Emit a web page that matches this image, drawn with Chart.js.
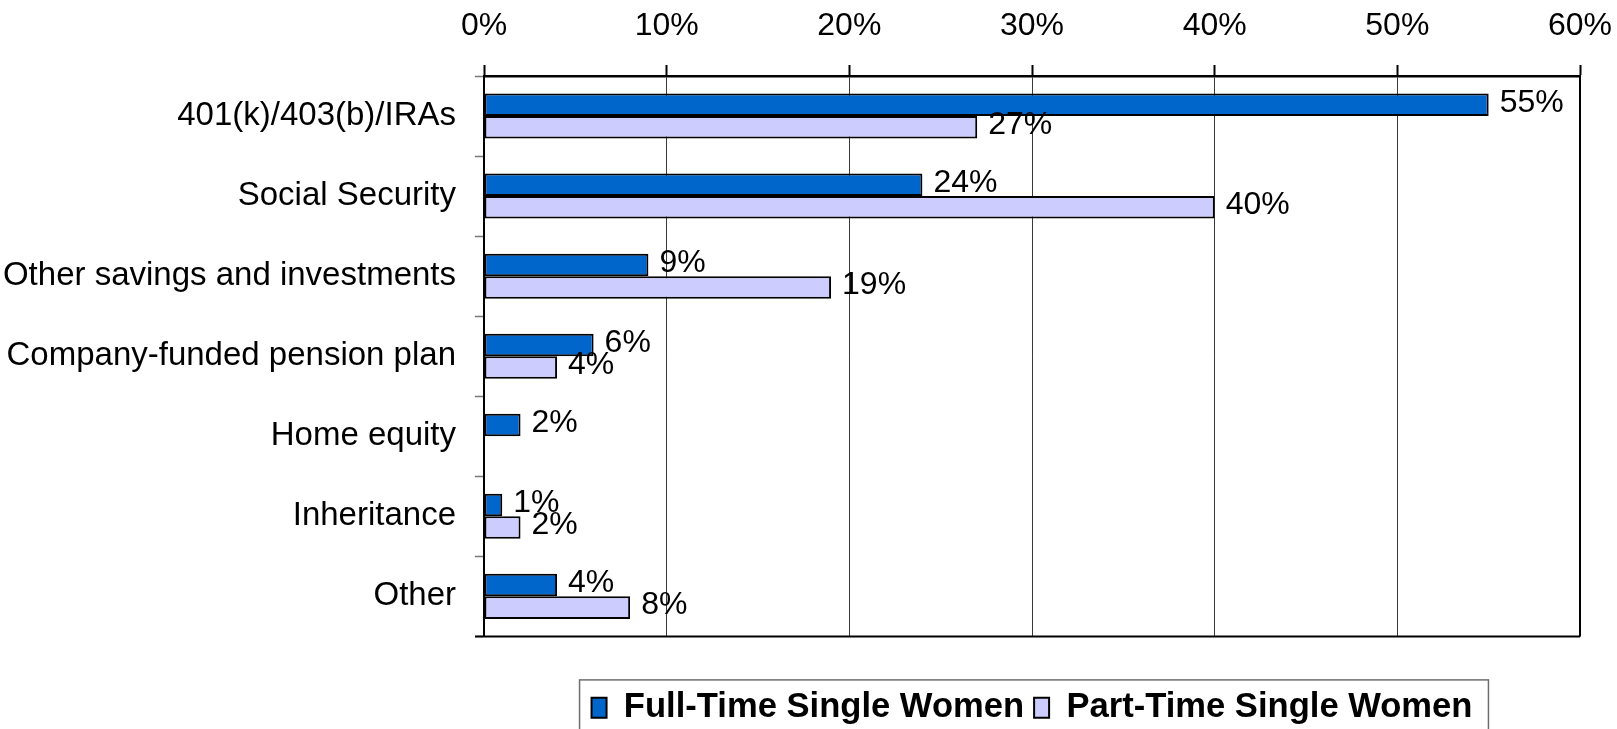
<!DOCTYPE html>
<html>
<head>
<meta charset="utf-8">
<script src="https://cdn.jsdelivr.net/npm/chart.js@4/dist/chart.umd.min.js"></script>
<style>
  html, body { margin: 0; padding: 0; background: #ffffff; }
  #wrap { width: 1617px; height: 729px; position: relative; }
</style>
</head>
<body>
<div id="wrap"><canvas id="c" width="1617" height="729"></canvas></div>
<script>
const categories = ['401(k)/403(b)/IRAs', 'Social Security', 'Other savings and investments', 'Company-funded pension plan', 'Home equity', 'Inheritance', 'Other'];
const fullTime = [55, 24, 9, 6, 2, 1, 4];
const partTime = [27, 40, 19, 4, null, 2, 8];
const seriesNames = ['Full-Time Single Women', 'Part-Time Single Women'];
const axisMin = 0;
const axisMax = 60;
const axisStep = 10;

const FONT = "'Liberation Sans', Arial, sans-serif";

const valueLabels = {
  id: 'valueLabels',
  afterDatasetsDraw(chart) {
    const ctx = chart.ctx;
    ctx.save();
    ctx.font = '32px ' + FONT;
    ctx.fillStyle = '#000';
    ctx.textAlign = 'left';
    ctx.textBaseline = 'middle';
    chart.data.datasets.forEach((ds, di) => {
      const meta = chart.getDatasetMeta(di);
      meta.data.forEach((bar, i) => {
        const v = ds.data[i];
        if (v === null || v === undefined) return;
        ctx.fillText(v + '%', bar.x + 11, bar.y - 2);
      });
    });
    ctx.restore();
  }
};

const frame = {
  id: 'frame',
  afterDraw(chart) {
    const ctx = chart.ctx;
    const a = chart.chartArea;
    ctx.save();
    ctx.strokeStyle = '#000';
    ctx.lineWidth = 2;
    ctx.beginPath();
    ctx.moveTo(a.right, a.top);
    ctx.lineTo(a.right, a.bottom);
    ctx.moveTo(a.left - 9, a.bottom);
    ctx.lineTo(a.right, a.bottom);
    ctx.stroke();
    // legend frame
    const lg = chart.legend;
    if (lg && lg.legendHitBoxes && lg.legendHitBoxes.length) {
      const hb = lg.legendHitBoxes;
      const first = hb[0], last = hb[hb.length - 1];
      const l = first.left - 12;
      const r = last.left + last.width + 16;
      const t = lg.top - 0.5;
      ctx.strokeStyle = '#6e6e6e';
      ctx.lineWidth = 1.5;
      ctx.strokeRect(l, t, r - l, chart.height + 10 - t);
    }
    ctx.restore();
  }
};

new Chart(document.getElementById('c'), {
  type: 'bar',
  data: {
    labels: categories,
    datasets: [
      {
        label: seriesNames[0],
        data: fullTime,
        backgroundColor: '#0066CC',
        borderColor: '#000000',
        borderWidth: 2,
        borderSkipped: false,
        categoryPercentage: 0.5625,
        barPercentage: 1.0
      },
      {
        label: seriesNames[1],
        data: partTime,
        backgroundColor: '#CCCCFF',
        borderColor: '#000000',
        borderWidth: 2,
        borderSkipped: false,
        categoryPercentage: 0.5625,
        barPercentage: 1.0
      }
    ]
  },
  options: {
    indexAxis: 'y',
    responsive: false,
    animation: false,
    devicePixelRatio: 1,
    layout: { padding: { left: 0, right: 37, top: 0, bottom: -6 } },
    scales: {
      x: {
        position: 'top',
        min: axisMin,
        max: axisMax,
        ticks: {
          stepSize: axisStep,
          callback: v => v + '%',
          font: { family: FONT, size: 32 },
          color: '#000',
          padding: 20,
          maxRotation: 0
        },
        grid: {
          color: '#3a3a3a',
          lineWidth: 1,
          tickColor: '#000',
          tickLength: 11,
          tickWidth: 2,
          drawOnChartArea: true
        },
        border: { display: true, color: '#000', width: 2.5 },
        afterFit(scale) { scale.height = 76; scale.paddingLeft = 0; scale.paddingRight = 0; }
      },
      x2: {
        type: 'linear',
        position: 'bottom',
        display: true,
        ticks: { display: false },
        grid: { display: false },
        border: { display: false },
        afterFit(scale) { scale.height = 44; scale.paddingLeft = 0; scale.paddingRight = 0; }
      },
      y: {
        position: 'left',
        ticks: {
          font: { family: FONT, size: 33 },
          color: '#000',
          padding: 19
        },
        grid: {
          offset: true,
          drawOnChartArea: false,
          tickLength: 9,
          tickColor: '#777',
          tickWidth: 1.5
        },
        border: { display: true, color: '#000', width: 2 },
        afterFit(scale) { scale.width = 484; scale.paddingTop = 0; scale.paddingBottom = 0; }
      }
    },
    plugins: {
      legend: {
        position: 'bottom',
        fullSize: false,
        align: 'center',
        labels: {
          font: { family: FONT, size: 34.6, weight: 'bold' },
          color: '#000',
          boxWidth: 15,
          boxHeight: 20,
          padding: 10
        }
      },
      tooltip: { enabled: false },
      title: { display: false }
    }
  },
  plugins: [valueLabels, frame]
});
</script>
</body>
</html>
